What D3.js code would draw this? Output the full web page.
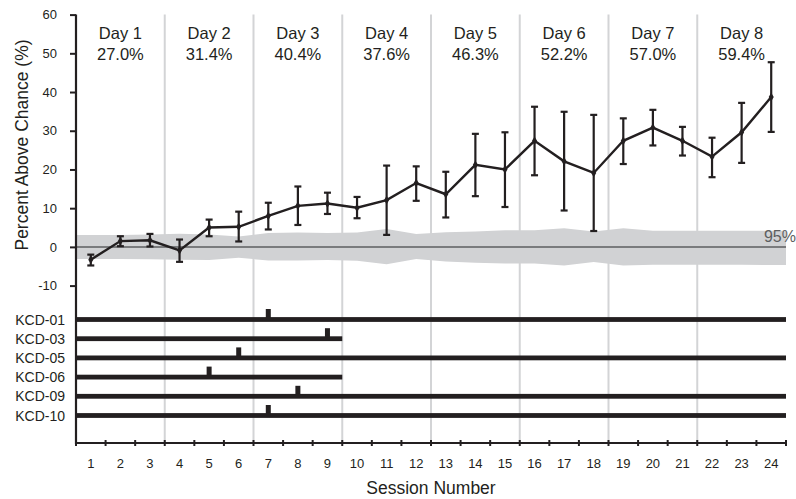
<!DOCTYPE html>
<html>
<head>
<meta charset="utf-8">
<script src="https://cdn.jsdelivr.net/npm/d3@7"></script>
<style>
  html, body { margin: 0; padding: 0; background: #fff; }
  svg { display: block; font-family: "Liberation Sans", Arial, Helvetica, sans-serif; }
</style>
</head>
<body>
<svg id="chart" width="796" height="499"></svg>
<script>
// ---------- data ----------
const sessions = d3.range(1, 25);
const meanVals = [-3.3, 1.5, 1.7, -0.9, 5.0, 5.2, 8.0, 10.6, 11.2, 10.1, 12.1, 16.5,
                  13.6, 21.2, 20.0, 27.4, 22.1, 19.1, 27.4, 30.8, 27.4, 23.3, 29.6, 38.7];
const errHigh = [-2.0, 2.75, 3.35, 1.9, 7.05, 9.1, 11.4, 15.6, 14.0, 12.9, 21.0, 20.8,
                 19.4, 29.2, 29.6, 36.2, 34.9, 34.1, 33.2, 35.4, 31.0, 28.2, 37.2, 47.7];
const errLow  = [-4.8, 0.18, 0.1, -3.86, 2.75, 1.4, 4.5, 5.66, 8.5, 7.4, 3.1, 11.9,
                 7.6, 13.1, 10.3, 18.5, 9.4, 4.1, 21.4, 26.2, 23.6, 18.0, 21.7, 29.7];
const bandUpper = [3.1, 3.1, 3.2, 3.4, 3.2, 2.7, 3.6, 3.7, 3.6, 3.7, 4.6, 3.3,
                   3.8, 4.0, 4.3, 4.3, 4.8, 4.0, 4.8, 4.2, 4.2, 4.2, 4.2, 4.2];
const bandLower = [-3.1, -3.1, -3.2, -3.3, -3.4, -2.8, -3.5, -3.5, -3.4, -3.6, -4.5, -3.1,
                   -3.8, -4.1, -4.3, -4.3, -4.8, -3.9, -4.8, -4.6, -4.6, -4.6, -4.6, -4.7];
const dayLabels = ["Day 1", "Day 2", "Day 3", "Day 4", "Day 5", "Day 6", "Day 7", "Day 8"];
const dayValues = ["27.0%", "31.4%", "40.4%", "37.6%", "46.3%", "52.2%", "57.0%", "59.4%"];
const sessionsPerDay = 3;
const subjects = ["KCD-01", "KCD-03", "KCD-05", "KCD-06", "KCD-09", "KCD-10"];
const subjectLastSession = [24, 9, 24, 9, 24, 24];
const subjectMarkSession = [7, 9, 6, 5, 8, 7];
const yTicks = [-10, 0, 10, 20, 30, 40, 50, 60];
const bandLabel = "95%";

// ---------- layout ----------
const ink = "#231f20";
const left = 76, right = 786, axisY = 443;
const svg = d3.select("#chart");

const x = d3.scaleLinear().domain([0, 24]).range([left, right]);
const xc = s => x(s - 0.5); // session center
const y = d3.scaleLinear().domain([-10, 60]).range([285.6, 14.6]);
const ySub = d3.scalePoint().domain(subjects).range([319.5, 415.5]);

// day separators
const seps = d3.range(1, dayLabels.length).map(d => d * sessionsPerDay);
svg.append("g").selectAll("line").data(seps).join("line")
  .attr("x1", d => x(d)).attr("x2", d => x(d))
  .attr("y1", y(60)).attr("y2", axisY)
  .attr("stroke", "#d3d4d6").attr("stroke-width", 2);

// 95% band
const bandPts = [{s: 0, u: bandUpper[0], l: bandLower[0]}]
  .concat(sessions.map((s, i) => ({s: s - 0.5, u: bandUpper[i], l: bandLower[i]})))
  .concat([{s: 24, u: bandUpper[23], l: bandLower[23]}]);
svg.append("path").datum(bandPts)
  .attr("d", d3.area().x(d => x(d.s)).y0(d => y(d.l)).y1(d => y(d.u)))
  .attr("fill", "#d1d2d4");

// zero line
svg.append("line").attr("x1", x(0)).attr("x2", x(24)).attr("y1", y(0)).attr("y2", y(0))
  .attr("stroke", "#5d5e60").attr("stroke-width", 1.5);

svg.append("text").attr("x", 796).attr("y", y(0) - 5)
  .attr("text-anchor", "end").attr("font-size", 16).attr("fill", "#5d5e60").text(bandLabel);

// Day labels
const dg = svg.append("g").attr("font-size", 16.5).attr("fill", ink).attr("text-anchor", "middle");
dayLabels.forEach((d, i) => {
  const cx = x(i * sessionsPerDay + sessionsPerDay / 2);
  dg.append("text").attr("x", cx).attr("y", 39).text(d);
  dg.append("text").attr("x", cx).attr("y", 60).text(dayValues[i]);
});

// error bars
const eg = svg.append("g").attr("stroke", ink).attr("stroke-width", 2.2);
sessions.forEach((s, i) => {
  const cx = xc(s);
  eg.append("line").attr("x1", cx).attr("x2", cx).attr("y1", y(errLow[i])).attr("y2", y(errHigh[i]));
  eg.append("line").attr("x1", cx - 3.5).attr("x2", cx + 3.5).attr("y1", y(errLow[i])).attr("y2", y(errLow[i]));
  eg.append("line").attr("x1", cx - 3.5).attr("x2", cx + 3.5).attr("y1", y(errHigh[i])).attr("y2", y(errHigh[i]));
});

// mean line
svg.append("path").datum(meanVals)
  .attr("d", d3.line().x((d, i) => xc(sessions[i])).y(d => y(d)))
  .attr("fill", "none").attr("stroke", ink).attr("stroke-width", 2.4).attr("stroke-linejoin", "miter");
svg.append("g").selectAll("path").data(meanVals).join("path")
  .attr("d", d3.symbol(d3.symbolDiamond, 22))
  .attr("transform", (d, i) => `translate(${xc(sessions[i])},${y(d)})`)
  .attr("fill", ink);

// subject bars
const sg = svg.append("g");
subjects.forEach((sub, i) => {
  sg.append("rect").attr("x", x(0)).attr("y", ySub(sub) - 2.4)
    .attr("width", x(subjectLastSession[i]) - x(0)).attr("height", 4.8).attr("fill", ink);
  sg.append("rect").attr("x", xc(subjectMarkSession[i]) - 2.5).attr("y", ySub(sub) - 10.5)
    .attr("width", 5).attr("height", 9).attr("fill", ink);
});
svg.append("g").attr("font-size", 14).attr("fill", ink).attr("text-anchor", "end")
  .selectAll("text").data(subjects).join("text")
  .attr("x", 65).attr("y", d => ySub(d) + 5).text(d => d);

// y axis
const yAxis = svg.append("g").attr("transform", `translate(${left},0)`)
  .call(d3.axisLeft(y).tickValues(yTicks).tickSize(6).tickPadding(13).tickFormat(d => String(d)));
yAxis.select(".domain").remove();
yAxis.selectAll(".tick line").attr("stroke", ink).attr("stroke-width", 2);
yAxis.selectAll(".tick text").attr("font-size", 13).attr("fill", ink)
  .attr("font-family", "'Liberation Sans', Arial, sans-serif");
svg.append("line").attr("x1", left).attr("x2", left).attr("y1", y(60)).attr("y2", axisY + 1)
  .attr("stroke", ink).attr("stroke-width", 2.2);

// x axis
svg.append("line").attr("x1", left - 1).attr("x2", right + 1).attr("y1", axisY).attr("y2", axisY)
  .attr("stroke", ink).attr("stroke-width", 2);
svg.append("g").selectAll("line").data(d3.range(0, 25)).join("line")
  .attr("x1", d => x(d)).attr("x2", d => x(d)).attr("y1", axisY - 3).attr("y2", axisY + 3)
  .attr("stroke", ink).attr("stroke-width", 2);
svg.append("g").attr("font-size", 13).attr("fill", ink).attr("text-anchor", "middle")
  .selectAll("text").data(sessions).join("text")
  .attr("x", d => xc(d)).attr("y", 468).text(d => d);

// axis titles
svg.append("text").attr("x", x(12)).attr("y", 494).attr("text-anchor", "middle")
  .attr("font-size", 17.5).attr("fill", ink).text("Session Number");
svg.append("text").attr("transform", `translate(28,145) rotate(-90)`).attr("text-anchor", "middle")
  .attr("font-size", 17.5).attr("fill", ink).text("Percent Above Chance (%)");
</script>
</body>
</html>
